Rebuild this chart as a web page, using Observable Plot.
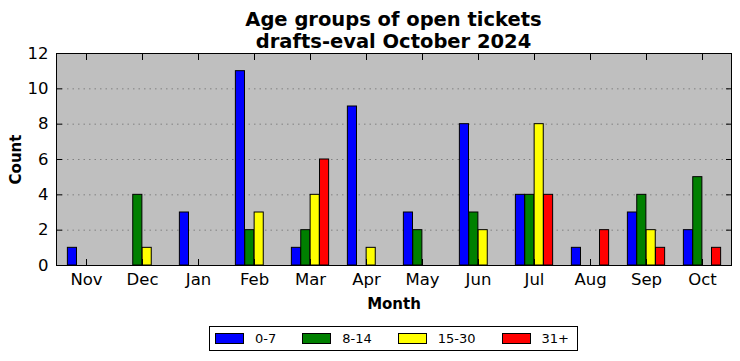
<!DOCTYPE html>
<html>
<head>
<meta charset="utf-8">
<script src="https://cdn.jsdelivr.net/npm/d3@7"></script>
<script src="https://cdn.jsdelivr.net/npm/@observablehq/plot@0.6"></script>
<style>
  html, body { margin: 0; padding: 0; background: #fff; }
  body { width: 740px; font-family: "DejaVu Sans", sans-serif; }
  #title { box-sizing: border-box; width: 740px; height: 40px; padding: 9px 9px 0 56px; text-align: center; font-weight: bold; font-size: 19.5px; line-height: 22px; color: #000; }
  #legend-wrap { box-sizing: border-box; width: 740px; padding: 14px 9px 0 56px; display: flex; justify-content: center; }
  #legend { display: flex; align-items: center; border: 1px solid #000; height: 23px; padding: 0 8px 0 5px; font-size: 13px; }
  .item { display: flex; align-items: center; margin-right: 26px; }
  .item:last-child { margin-right: 0; }
  .sw { width: 27px; height: 9px; border: 1px solid #000; margin-right: 11px; }
</style>
</head>
<body>
<div id="title">Age groups of open tickets<br>drafts-eval October 2024</div>
<div id="chart"></div>
<div id="legend-wrap"><div id="legend"></div></div>
<script>
const months = ["Nov","Dec","Jan","Feb","Mar","Apr","May","Jun","Jul","Aug","Sep","Oct"];
const groups = ["0-7","8-14","15-30","31+"];
const colors = ["#0000ff","#008000","#ffff00","#ff0000"];
const v0_7   = [1,0,3,11,1,9,3,8,4,1,3,2];
const v8_14  = [0,4,0,2,2,0,2,3,4,0,4,5];
const v15_30 = [0,1,0,3,4,1,0,2,8,0,2,0];
const v31    = [0,0,0,0,6,0,0,0,4,2,1,1];
const yTicks = [0,2,4,6,8,10,12];

const series = [v0_7, v8_14, v15_30, v31];

const W = 740, ML = 56, MR = 9;
const step = (W - ML - MR) / months.length;   // band width of one month
const barW = step / 6;                          // four bars occupy the middle 2/3

const barMarks = groups.map((g, j) =>
  Plot.barY(months.map((m, i) => ({month: m, group: g, value: series[j][i]})), {
    x: "month", y: "value", fill: "group", stroke: "#000", strokeWidth: 1,
    insetLeft: barW * (1 + j), insetRight: barW * (4 - j)
  })
);

const chart = Plot.plot({
  width: W,
  height: 272,
  marginLeft: ML,
  marginRight: MR,
  marginTop: 13,
  marginBottom: 47,
  style: {fontFamily: "DejaVu Sans, sans-serif", color: "#000", background: "transparent"},
  x: {domain: months, padding: 0},
  y: {domain: [0, 12]},
  color: {domain: groups, range: colors},
  marks: [
    Plot.frame({fill: "#bfbfbf", stroke: null}),
    Plot.gridY({ticks: yTicks.slice(1, -1), stroke: "#808080", strokeOpacity: 1, strokeDasharray: "1.5,4", strokeWidth: 1}),
    ...barMarks,
    Plot.axisY({ticks: yTicks, tickSize: 0, tickPadding: 8, fontSize: 16.5, label: "Count", labelAnchor: "center", labelOffset: 46, labelArrow: "none"}),
    Plot.axisY({ticks: yTicks, tickSize: -6, text: null, label: null}),
    Plot.axisY({anchor: "right", ticks: yTicks, tickSize: -6, text: null, label: null}),
    Plot.axisX({anchor: "bottom", tickSize: 0, tickPadding: 8, fontSize: 16.5, label: "Month", labelAnchor: "center", labelOffset: 43, labelArrow: "none"}),
    Plot.axisX({anchor: "bottom", tickSize: -6, text: null, label: null}),
    Plot.axisX({anchor: "top", tickSize: -6, text: null, label: null}),
    Plot.frame({stroke: "#000", strokeWidth: 1})
  ]
});
document.getElementById("chart").appendChild(chart);
d3.select(chart).selectAll('g[aria-label="y-axis label"] text, g[aria-label="x-axis label"] text')
  .style("font-weight", "bold").style("font-size", "15px");

const legend = d3.select("#legend");
groups.forEach((g, i) => {
  const it = legend.append("div").attr("class", "item");
  it.append("div").attr("class", "sw").style("background", colors[i]);
  it.append("span").text(g);
});
</script>
</body>
</html>
